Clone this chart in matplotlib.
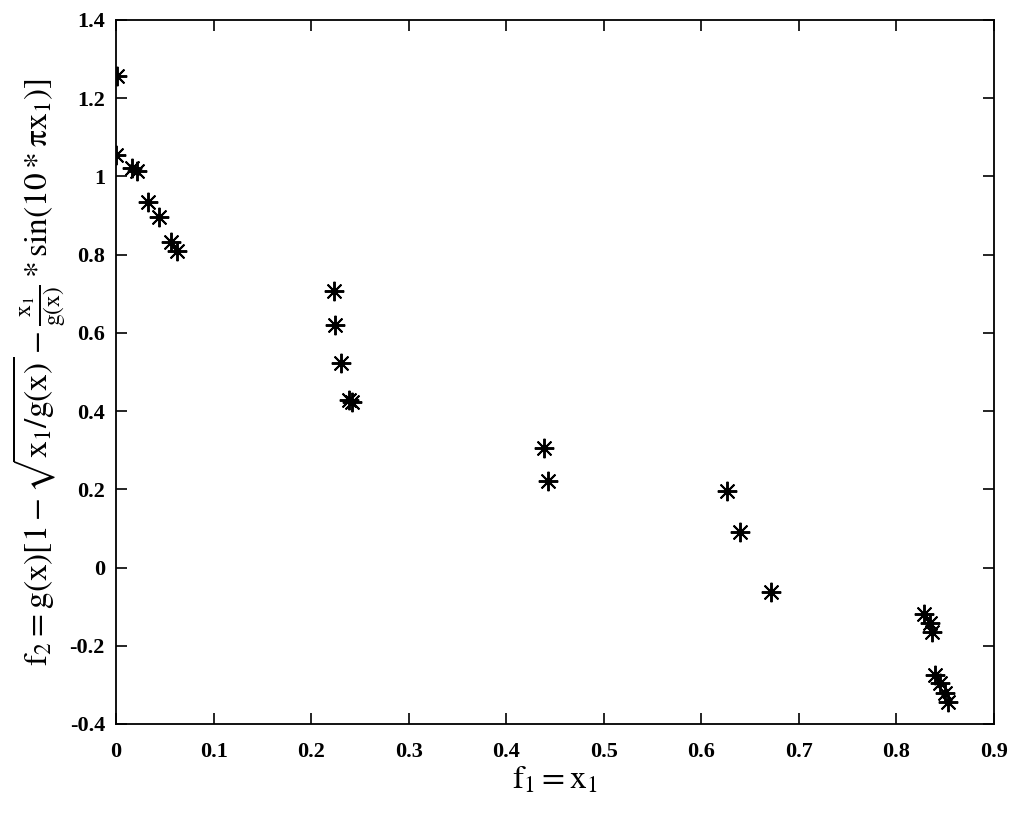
import matplotlib
matplotlib.use("Agg")
import matplotlib.pyplot as plt
import numpy as np

# Pareto front points (f1, f2)
f1 = [0.001, 0.000, 0.016, 0.021, 0.033, 0.044, 0.056, 0.063,
      0.2235, 0.2245, 0.231, 0.239, 0.2416,
      0.4387, 0.443,
      0.626, 0.640, 0.671,
      0.828, 0.834, 0.836, 0.8395, 0.8446, 0.8497, 0.8525]
f2 = [1.257, 1.055, 1.021, 1.014, 0.935, 0.897, 0.832, 0.809,
      0.708, 0.620, 0.522, 0.428, 0.424,
      0.305, 0.222,
      0.196, 0.092, -0.062,
      -0.119, -0.143, -0.164, -0.275, -0.296, -0.321, -0.343]

xticks = np.arange(0, 0.91, 0.1)
yticks = np.arange(-0.4, 1.41, 0.2)


def fmt(v):
    if abs(v) < 1e-9:
        return "0"
    if abs(v - 1) < 1e-9:
        return "1"
    return f"{v:.1f}"


plt.rcParams["font.family"] = ["Liberation Serif", "DejaVu Serif"]
plt.rcParams["mathtext.fontset"] = "stix"

fig = plt.figure(figsize=(10.24, 8.13), dpi=100)
ax = fig.add_axes([0.1133, 0.1095, 0.8574, 0.8659])
ax.plot(f1, f2, linestyle="none", marker=(8, 2, 0), markersize=14,
        markeredgewidth=1.4, color="black")

ax.set_xlim(0, 0.9)
ax.set_ylim(-0.4, 1.4)
ax.set_xticks(xticks)
ax.set_xticklabels([fmt(v) for v in xticks])
ax.set_yticks(yticks)
ax.set_yticklabels([fmt(v) for v in yticks])
ax.tick_params(direction="in", length=8, width=1.2, top=True, right=True,
               labelsize=16)
ax.tick_params(axis="x", pad=13)
ax.tick_params(axis="y", pad=8)
for lab in ax.get_xticklabels() + ax.get_yticklabels():
    lab.set_fontweight("bold")
for s in ax.spines.values():
    s.set_linewidth(1.3)

ax.set_xlabel(r"$\mathrm{f_1 = x_1}$", fontsize=24, labelpad=2)
ax.set_ylabel(r"$\mathrm{f_2 = g(x)[1 - \sqrt{x_1/g(x)} - \frac{x_1}{g(x)} * \sin(10 * \pi x_1)]}$",
              fontsize=24, labelpad=1)

fig.savefig("out.png", dpi=100)
